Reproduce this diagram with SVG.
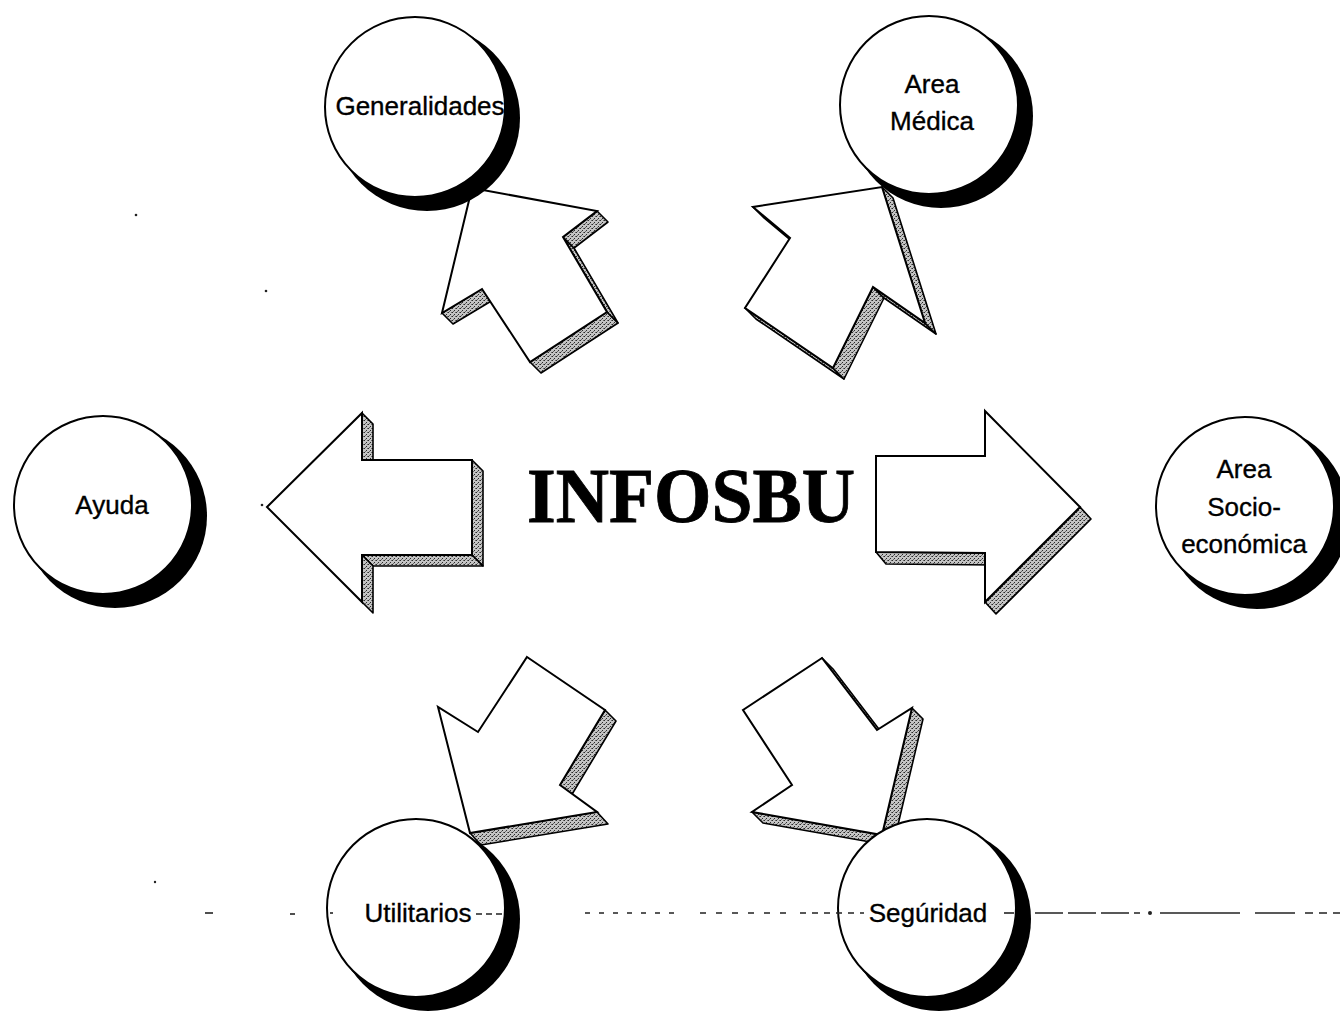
<svg xmlns="http://www.w3.org/2000/svg" width="1340" height="1023" viewBox="0 0 1340 1023">
  <defs>
    <!-- stippled grey used on the extruded sides of the block arrows -->
    <pattern id="stipple" width="4" height="4" patternUnits="userSpaceOnUse">
      <rect width="4" height="4" fill="#c4c4c4"/>
      <rect x="0" y="0" width="1" height="1" fill="#2a2a2a"/>
      <rect x="2" y="2" width="1" height="1" fill="#2a2a2a"/>
      <rect x="3" y="0" width="1" height="1" fill="#6a6a6a"/>
      <rect x="1" y="3" width="1" height="1" fill="#6a6a6a"/>
    </pattern>
    <style>
      .side { fill: url(#stipple); stroke: #000; stroke-width: 1.6; stroke-linejoin: round; }
      .face { fill: #fff; stroke: #000; stroke-width: 2; stroke-linejoin: miter; }
      .shadow { fill: #000; }
      .disc { fill: #fff; stroke: #000; stroke-width: 2; }
      .label { font-family: "Liberation Sans", Arial, sans-serif; font-size: 26px; fill: #000; stroke: #000; stroke-width: 0.35; text-anchor: middle; }
      .title { font-family: "Liberation Serif", "Times New Roman", serif; font-weight: bold; font-size: 78px; fill: #000; stroke: #000; stroke-width: 0.8; }
      .rule { stroke: #222; stroke-width: 1.6; fill: none; }
      .speck { fill: #222; }
    </style>
  </defs>

  <rect width="1340" height="1023" fill="#fff"/>

  <!-- block arrows radiating from the title -->
  <g id="connectors">
    <g id="arrow-ayuda">
      <polygon class="side" points="362,413 373,424 373,471 362,460"/>
      <polygon class="side" points="472,460 483,471 483,566 472,555"/>
      <polygon class="side" points="362,555 472,555 483,566 373,566"/>
      <polygon class="side" points="362,555 373,566 373,613 362,602"/>
      <polygon class="face" points="267,507 362,413 362,460 472,460 472,555 362,555 362,602"/>
    </g>
    <g id="arrow-socioeconomica">
      <polygon class="side" points="876,552 985,553 995,565 886,564"/>
      <polygon class="side" points="1080,507 1091,519 996,614 985,602"/>
      <polygon class="face" points="876,456 985,456 985,411 1080,507 985,602 985,553 876,552"/>
    </g>
    <g id="arrow-generalidades">
      <polygon class="side" points="442,313 482,289 493,300 453,324"/>
      <polygon class="side" points="530,362 607,312 618,323 541,373"/>
      <polygon class="side" points="563,237 607,312 618,323 574,248"/>
      <polygon class="side" points="597,211 608,222 574,248 563,237"/>
      <polygon class="face" points="472,188 597,211 563,237 607,312 530,362 482,289 442,313"/>
    </g>
    <g id="arrow-medica">
      <polygon class="side" points="753,207 790,238 801,249 764,218"/>
      <polygon class="side" points="745,308 833,368 844,379 756,319"/>
      <polygon class="side" points="833,368 873,287 884,298 844,379"/>
      <polygon class="side" points="873,287 925,323 936,334 884,298"/>
      <polygon class="side" points="925,323 882,187 893,198 936,334"/>
      <polygon class="face" points="882,187 925,323 873,287 833,368 745,308 790,238 753,207"/>
    </g>
    <g id="arrow-utilitarios">
      <polygon class="side" points="605,710 616,721 571,796 560,785"/>
      <polygon class="side" points="597,812 608,824 481,845 470,833"/>
      <polygon class="face" points="527,657 605,710 560,785 597,812 470,833 438,707 478,732"/>
    </g>
    <g id="arrow-seguridad">
      <polygon class="side" points="822,658 833,669 888,741 877,730"/>
      <polygon class="side" points="912,708 923,719 893,846 882,835"/>
      <polygon class="side" points="752,812 882,835 893,846 763,823"/>
      <polygon class="face" points="822,658 877,730 912,708 882,835 752,812 792,785 743,710"/>
    </g>
  </g>

  <!-- small marks -->
  <g id="specks">
    <circle class="speck" cx="136" cy="215" r="1.3"/>
    <circle class="speck" cx="266" cy="291" r="1.3"/>
    <circle class="speck" cx="262" cy="505" r="1.3"/>
    <line class="rule" x1="463" y1="156" x2="467" y2="154"/>
    <line class="rule" x1="1187" y1="518" x2="1186" y2="523"/>
    <line class="rule" x1="1222" y1="572" x2="1222" y2="577"/>
    <circle class="speck" cx="155" cy="882" r="1.2"/>
  </g>

  <!-- nodes -->
  <g id="node-generalidades">
    <circle class="shadow" cx="427" cy="118" r="93"/>
    <circle class="disc" cx="415" cy="107" r="90"/>
    <text class="label" x="420" y="115">Generalidades</text>
  </g>
  <g id="node-area-medica">
    <circle class="shadow" cx="941" cy="116" r="92"/>
    <circle class="disc" cx="929" cy="105" r="89"/>
    <text class="label" x="932" y="93">Area</text>
    <text class="label" x="932" y="130">Médica</text>
  </g>
  <g id="node-ayuda">
    <circle class="shadow" cx="115" cy="516" r="92"/>
    <circle class="disc" cx="103" cy="505" r="89"/>
    <text class="label" x="112" y="514">Ayuda</text>
  </g>
  <g id="node-area-socioeconomica">
    <circle class="shadow" cx="1257" cy="517" r="92"/>
    <circle class="disc" cx="1245" cy="506" r="89"/>
    <text class="label" x="1244" y="478">Area</text>
    <text class="label" x="1244" y="516">Socio-</text>
    <text class="label" x="1244" y="553">económica</text>
  </g>
  <g id="node-utilitarios">
    <circle class="shadow" cx="428" cy="919" r="92"/>
    <circle class="disc" cx="416" cy="908" r="89"/>
    <text class="label" x="418" y="922">Utilitarios</text>
  </g>
  <g id="node-seguridad">
    <circle class="shadow" cx="939" cy="919" r="92"/>
    <circle class="disc" cx="927" cy="908" r="89"/>
    <text class="label" x="928" y="922">Segúridad</text>
  </g>

  <!-- broken rule running through the bottom row, drawn over the discs -->
  <g id="bottom-rule">
    <line class="rule" x1="205" y1="913" x2="213" y2="913"/>
    <line class="rule" x1="290" y1="914" x2="295" y2="914"/>
    <line class="rule" x1="330" y1="913" x2="333" y2="913"/>
    <line class="rule" x1="476" y1="914" x2="506" y2="914" stroke-dasharray="6 4"/>
    <line class="rule" x1="585" y1="913" x2="680" y2="913" stroke-dasharray="5 9"/>
    <line class="rule" x1="700" y1="913" x2="790" y2="913" stroke-dasharray="6 10"/>
    <line class="rule" x1="800" y1="913" x2="864" y2="913" stroke-dasharray="6 6"/>
    <line class="rule" x1="1004" y1="913" x2="1014" y2="913"/>
    <line class="rule" x1="1035" y1="913" x2="1140" y2="913" stroke-dasharray="28 5"/>
    <circle class="speck" cx="1150" cy="913" r="2"/>
    <line class="rule" x1="1160" y1="913" x2="1240" y2="913"/>
    <line class="rule" x1="1255" y1="913" x2="1295" y2="913"/>
    <line class="rule" x1="1305" y1="913" x2="1340" y2="913" stroke-dasharray="8 6"/>
  </g>

  <!-- central title -->
  <g id="node-infosbu">
    <text class="title" x="527" y="522" textLength="328" lengthAdjust="spacingAndGlyphs">INFOSBU</text>
  </g>
</svg>
